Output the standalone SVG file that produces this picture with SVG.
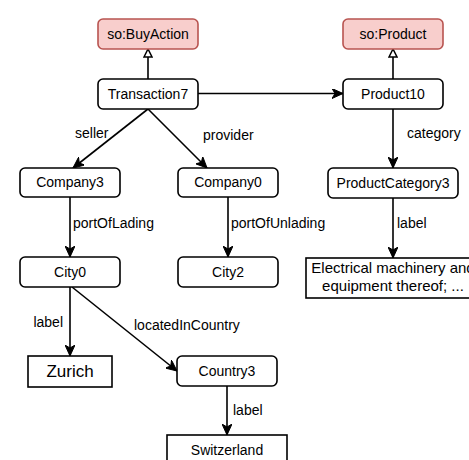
<svg xmlns="http://www.w3.org/2000/svg" width="469" height="460" viewBox="0 0 469 460">
  <style>
    .node rect { fill: #ffffff; stroke: #000000; stroke-width: 1.6; }
    .cls rect { fill: #f8cecc; stroke: #b85450; stroke-width: 1.6; }
    text { font-family: "Liberation Sans", Arial, Helvetica, sans-serif; font-size: 14px; fill: #000000; }
    .nt { text-anchor: middle; }
    .edge { fill: none; stroke: #000000; stroke-width: 1.6; }
    .rel { marker-end: url(#arrow); }
    .sub { marker-end: url(#hollow); }
  </style>
  <defs>
    <marker id="arrow" markerUnits="userSpaceOnUse" viewBox="0 0 12 10" markerWidth="12" markerHeight="10" refX="11" refY="5" orient="auto">
      <path d="M0,0 L11,5 L0,10 L3,5 Z" fill="#000000" stroke="#000000" stroke-width="1"/>
    </marker>
    <marker id="hollow" markerUnits="userSpaceOnUse" viewBox="0 0 10 10" markerWidth="10" markerHeight="10" refX="9" refY="5" orient="auto">
      <path d="M1,1 L9,5 L1,9 Z" fill="#ffffff" stroke="#000000" stroke-width="1.5"/>
    </marker>
  </defs>

  <!-- connectors -->
  <g id="edges">
    <path class="edge sub" d="M148,79 L148,49"/>
    <path class="edge sub" d="M393,79 L393,49"/>
    <path class="edge rel" d="M198,93.5 L343,93.5"/>
    <path class="edge rel" d="M148,109 L73,168"/>
    <path class="edge rel" d="M148,109 L207,168"/>
    <path class="edge rel" d="M393,108 L393,168"/>
    <path class="edge rel" d="M70,197 L70,257"/>
    <path class="edge rel" d="M228,197 L228,257"/>
    <path class="edge rel" d="M393,198 L393,258"/>
    <path class="edge rel" d="M70,287 L70,356"/>
    <path class="edge rel" d="M72,287 L177,371"/>
    <path class="edge rel" d="M227,386 L227,435"/>
    <text x="75" y="138">seller</text>
    <text x="203" y="140">provider</text>
    <text x="407" y="138">category</text>
    <text x="73" y="228">portOfLading</text>
    <text x="231" y="228">portOfUnlading</text>
    <text x="397" y="228">label</text>
    <text x="63" y="327" text-anchor="end">label</text>
    <text x="134" y="330">locatedInCountry</text>
    <text x="233" y="415">label</text>
  </g>

  <!-- nodes -->
  <g id="so-BuyAction" class="cls">
    <rect x="98" y="19" width="100" height="30" rx="5"/>
    <text class="nt" x="148" y="39">so:BuyAction</text>
  </g>
  <g id="so-Product" class="cls">
    <rect x="343" y="19" width="100" height="30" rx="5"/>
    <text class="nt" x="393" y="39">so:Product</text>
  </g>
  <g id="Transaction7" class="node">
    <rect x="98" y="79" width="100" height="30" rx="5"/>
    <text class="nt" x="148" y="99">Transaction7</text>
  </g>
  <g id="Product10" class="node">
    <rect x="343" y="79" width="100" height="30" rx="5"/>
    <text class="nt" x="393" y="99">Product10</text>
  </g>
  <g id="Company3" class="node">
    <rect x="20" y="168" width="100" height="29" rx="5"/>
    <text class="nt" x="70" y="187">Company3</text>
  </g>
  <g id="Company0" class="node">
    <rect x="178" y="168" width="100" height="29" rx="5"/>
    <text class="nt" x="228" y="187">Company0</text>
  </g>
  <g id="ProductCategory3" class="node">
    <rect x="328" y="168" width="130" height="30" rx="5"/>
    <text class="nt" x="393" y="188">ProductCategory3</text>
  </g>
  <g id="City0" class="node">
    <rect x="20" y="257" width="100" height="30" rx="5"/>
    <text class="nt" x="70" y="277">City0</text>
  </g>
  <g id="City2" class="node">
    <rect x="178" y="257" width="100" height="30" rx="5"/>
    <text class="nt" x="228" y="277">City2</text>
  </g>
  <g id="label-ProductCategory3" class="node">
    <rect x="306" y="258" width="174" height="40"/>
    <text class="nt" x="393" y="273" style="font-size:15px">Electrical machinery and</text>
    <text class="nt" x="393" y="291" style="font-size:15px">equipment thereof; ...</text>
  </g>
  <g id="label-Zurich" class="node">
    <rect x="28" y="356" width="84" height="31"/>
    <text class="nt" x="70" y="377" style="font-size:17px">Zurich</text>
  </g>
  <g id="Country3" class="node">
    <rect x="177" y="356" width="100" height="30" rx="5"/>
    <text class="nt" x="227" y="376">Country3</text>
  </g>
  <g id="label-Switzerland" class="node">
    <rect x="167" y="435" width="120" height="30"/>
    <text class="nt" x="227" y="455">Switzerland</text>
  </g>
</svg>
